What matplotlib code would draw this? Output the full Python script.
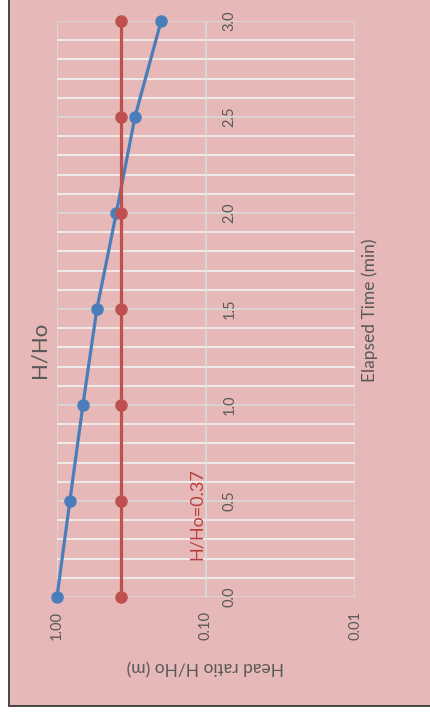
import matplotlib.pyplot as plt
from matplotlib.patches import Rectangle
from matplotlib.ticker import NullLocator, FixedLocator
import numpy as np

plt.rcParams['font.family'] = ['Lato', 'DejaVu Sans']

time_min = [0.0, 0.5, 1.0, 1.5, 2.0, 2.5, 3.0]
head_ratio = [1.00, 0.82, 0.67, 0.54, 0.40, 0.30, 0.20]
target = [0.37, 0.37, 0.37, 0.37, 0.37, 0.37, 0.37]
h_ticks = [1.0, 0.1, 0.01]
h_labels = ['1.00', '0.10', '0.01']
t_ticks = [0.0, 0.5, 1.0, 1.5, 2.0, 2.5, 3.0]

pink = '#E6B8B7'
gray_txt = '#595959'

fig = plt.figure(figsize=(4.3, 7.13), dpi=100)
fig.patch.set_facecolor('white')
W, H = 430, 713

# chart area (rotated excel chart, only left/bottom edge visible)
fig.patches.append(Rectangle((9 / W, 7 / H), 1.2, 1.2, transform=fig.transFigure,
                             facecolor=pink, edgecolor='#3a3a3a', linewidth=1.3, zorder=-1))

ax = fig.add_axes([57 / W, (H - 597) / H, (355 - 57) / W, (597 - 21) / H])
ax.set_zorder(2)
ax.patch.set_visible(False)

ax.set_xscale('log')
ax.set_xlim(1, 0.01)
ax.set_ylim(0, 3)

ax.plot(head_ratio, time_min, color='#4A7EBB', lw=2.3, marker='o', ms=8, zorder=3, clip_on=False)
ax.plot(target, time_min, color='#C0504D', lw=2.3, marker='o', ms=8, zorder=4, clip_on=False)

# grid
ax.xaxis.set_major_locator(FixedLocator(h_ticks))
ax.xaxis.set_minor_locator(NullLocator())
ax.set_xticklabels(h_labels, rotation=90, color=gray_txt, fontsize=10.5)
ax.tick_params(axis='x', length=0, pad=10)

ax.set_yticks(t_ticks)
ax.set_yticks(np.round(np.arange(0, 3.01, 0.1), 1), minor=True)
ax.yaxis.tick_right()
ax.spines['right'].set_position(('data', 0.1))
ax.set_yticklabels(['%.1f' % t for t in t_ticks], rotation=90, color=gray_txt, fontsize=10.5,
                   va='center')
ax.tick_params(axis='y', which='both', length=0, pad=12)

ax.grid(which='minor', axis='y', color='#F2F2F2', lw=1.2, zorder=1)
ax.grid(which='major', axis='y', color='#D9D9D9', lw=1.2, zorder=1)
ax.grid(which='major', axis='x', color='#D9D9D9', lw=1.2, zorder=1)
for s in ['left', 'top', 'bottom']:
    ax.spines[s].set_visible(False)
ax.spines['right'].set_color('#D9D9D9')
ax.set_axisbelow(True)

ax.text(0.115, 0.43, 'H/Ho=0.37', rotation=90, ha='center', va='center',
        color='#B7403D', fontsize=13)

fig.text(40 / W, 1 - 350 / H, 'H/Ho', rotation=90, ha='center', va='center',
         color=gray_txt, fontsize=16)
fig.text(370 / W, 1 - 310 / H, 'Elapsed Time (min)', rotation=90, ha='center', va='center',
         color=gray_txt, fontsize=12.5)
fig.text(205 / W, 1 - 667 / H, 'Head ratio H/Ho (m)', rotation=180, ha='center', va='center',
         color=gray_txt, fontsize=12.5)

fig.savefig('out.png', dpi=100)
